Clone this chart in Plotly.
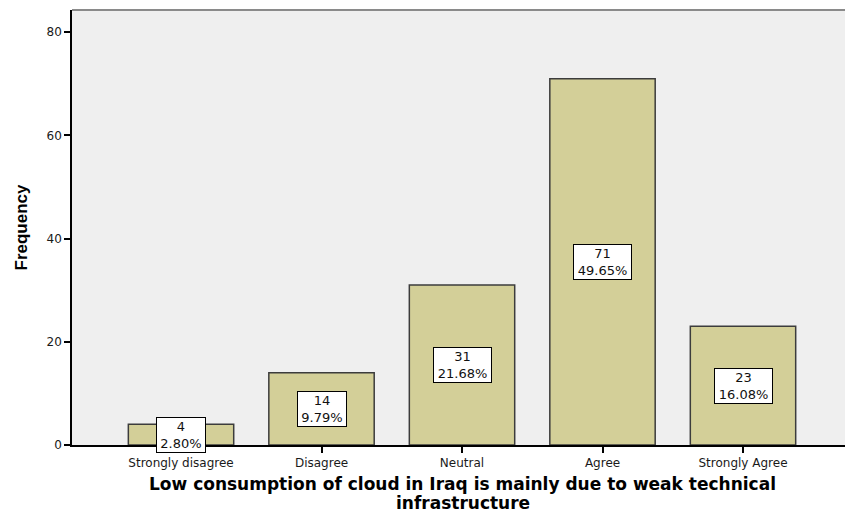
import plotly.graph_objects as go

categories = ["Strongly disagree", "Disagree", "Neutral", "Agree", "Strongly Agree"]
counts = [4, 14, 31, 71, 23]
percents = ["2.80%", "9.79%", "21.68%", "49.65%", "16.08%"]
y_ticks = [0, 20, 40, 60, 80]
x_title_lines = ["Low consumption of cloud in Iraq is mainly due to weak technical",
                 "infrastructure"]
y_title = "Frequency"

x_idx = list(range(len(categories)))
TICK_FONT = dict(family="DejaVu Sans, sans-serif", size=12, color="#1a1a1a")

fig = go.Figure()
fig.add_trace(go.Bar(
    x=x_idx, y=counts, width=0.75,
    marker=dict(color="#d3cf98", line=dict(color="#3c3c3c", width=1.5)),
    hoverinfo="skip",
))

for i, (c, p) in enumerate(zip(counts, percents)):
    fig.add_annotation(
        x=i, y=c / 2, text=f"{c}<br>{p}", showarrow=False,
        font=dict(family="DejaVu Sans, sans-serif", size=13, color="#111"),
        bgcolor="white", bordercolor="black", borderwidth=1, borderpad=1,
        width=9 * max(len(str(c)), len(p)) + 1,
        xref="x", yref="y",
    )

# x axis title (two lines, tight spacing as in the reference)
for k, line in enumerate(x_title_lines):
    fig.add_annotation(
        xref="paper", yref="paper", x=0.5, y=0, xanchor="center", yanchor="middle",
        xshift=4, yshift=-39 - 19 * k, text=f"<b>{line}</b>", showarrow=False,
        font=dict(family="DejaVu Sans, sans-serif", size=17, color="black"),
        borderpad=0,
    )

# y axis title
fig.add_annotation(
    xref="paper", yref="paper", x=0, y=0.5, xanchor="center", yanchor="middle",
    xshift=-51, text=f"<b>{y_title}</b>", textangle=-90, showarrow=False,
    font=dict(family="Liberation Sans, Arial, sans-serif", size=17, color="black"),
)

fig.update_layout(
    width=845, height=513,
    margin=dict(l=72, r=0, t=10, b=68),
    paper_bgcolor="white", plot_bgcolor="#efefef",
    showlegend=False,
    xaxis=dict(
        range=[-0.776, 4.726],
        tickmode="array", tickvals=x_idx, ticktext=categories,
        ticks="outside", ticklen=6, tickcolor="black", tickwidth=1.5,
        showline=True, linecolor="black", linewidth=1.5,
        showgrid=False, zeroline=False, tickfont=TICK_FONT,
    ),
    yaxis=dict(
        range=[0, 84.3],
        tickmode="array", tickvals=y_ticks,
        ticks="outside", ticklen=6, tickcolor="black", tickwidth=1.5,
        showline=True, linecolor="black", linewidth=1.5,
        showgrid=False, zeroline=False, tickfont=TICK_FONT,
    ),
)

# top frame line of the plot area
fig.add_shape(type="line", xref="paper", yref="paper", x0=0, x1=1, y0=1, y1=1,
              line=dict(color="#8a8a8a", width=2))

fig.write_html(
    "out.html",
    config={"displayModeBar": False},
    post_script="document.body.style.margin='0';document.body.style.overflow='hidden';",
)
